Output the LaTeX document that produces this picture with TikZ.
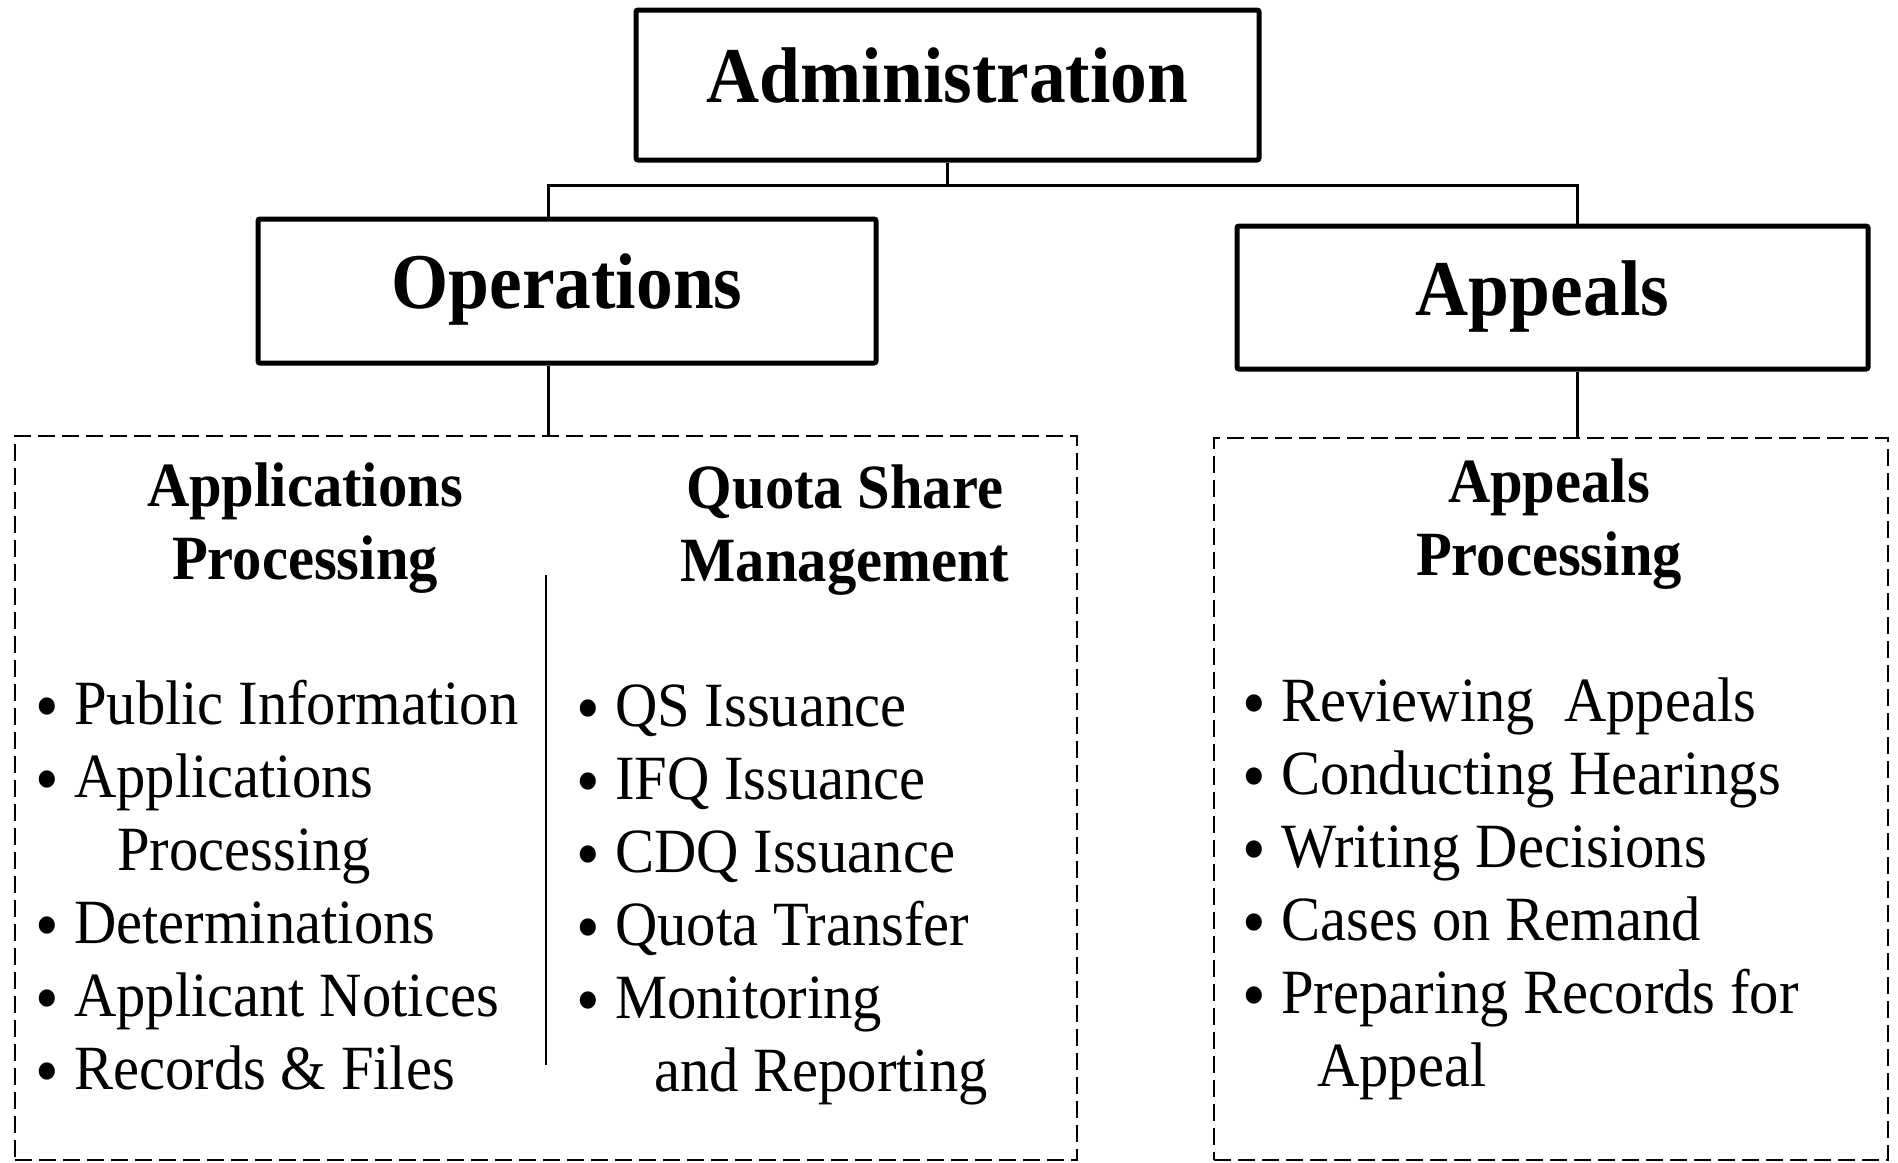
\documentclass[tikz,border=0pt]{standalone}
\usepackage{fontspec}
\setmainfont{Liberation Serif}[FakeStretch=0.93]
\newcommand\bul{\makebox[33pt][l]{\hspace*{-6pt}\raisebox{-6pt}{\scalebox{1.15}{\textbullet}}}}
\tikzset{
  titlebox/.style={draw, line width=5pt, rounded corners=2pt, inner sep=0pt,
    font=\fontsize{79}{90}\selectfont\bfseries, text height=55pt, text depth=20pt},
  conn/.style={line width=3pt},
  dbox/.style={draw, line width=2.5pt, dash pattern=on 17pt off 7pt, inner sep=0pt},
  divider/.style={line width=2.5pt},
  head/.style={anchor=base, inner sep=0pt, font=\fontsize{63}{73}\selectfont\bfseries},
  items/.style={anchor=base west, inner sep=0pt, font=\fontsize{63}{73}\selectfont},
}
\begin{document}
\begin{tikzpicture}[x=1pt,y=-1pt]
\useasboundingbox[fill=white] (0,0) rectangle (1898,1162);

% boxes
\node[titlebox, minimum width=623pt, minimum height=150pt] (admin) at (947.5,85) {Administration};
\node[titlebox, minimum width=618pt, minimum height=144pt] (ops) at (567,291) {Operations};
\node[titlebox, minimum width=631pt, minimum height=143pt] (app) at (1552.5,297.5) {\hspace*{-20pt}Appeals};

\node[dbox, minimum width=1062pt, minimum height=724pt] (opsbox) at (546,798) {};
\node[dbox, minimum width=674pt, minimum height=722pt] (appbox) at (1551,799) {};

% connectors
\coordinate (jl) at (548,185);
\coordinate (jr) at (1577,185);
\draw[conn] (admin.south) -- (admin.south |- jl);
\draw[conn] (jl |- ops.north) -- (jl) -- (jr) -- (jr |- app.north);
\draw[conn] (jl |- ops.south) -- (jl |- opsbox.north);
\draw[conn] (jr |- app.south) -- (jr |- appbox.north);

% divider
\coordinate (dtop) at (546,575);
\coordinate (dbot) at (546,1065);
\draw[divider] (dtop) -- (dbot);

% headings
\node[head] (aphead) at (305,506) {\begin{tabular}[t]{@{}c@{}}Applications\\Processing\end{tabular}};
\node[head] (qshead) at (845,508) {\begin{tabular}[t]{@{}c@{}}Quota Share\\Management\end{tabular}};
\node[head] (aphead2) at (1549,502) {\begin{tabular}[t]{@{}c@{}}Appeals\\Processing\end{tabular}};

% items
\node[items] (apitems) at (41,724) {\begin{tabular}[t]{@{}l@{}}
\bul Public Information\\
\bul Applications\\
\hspace*{76pt}Processing\\
\bul Determinations\\
\bul Applicant Notices\\
\bul Records \& Files
\end{tabular}};

\node[items] (qsitems) at (582,726) {\begin{tabular}[t]{@{}l@{}}
\bul QS Issuance\\
\bul IFQ Issuance\\
\bul CDQ Issuance\\
\bul Quota Transfer\\
\bul Monitoring\\
\hspace*{72pt}and Reporting
\end{tabular}};

\node[items] (appitems) at (1248,721) {\begin{tabular}[t]{@{}l@{}}
\bul Reviewing\ \ Appeals\\
\bul Conducting Hearings\\
\bul Writing Decisions\\
\bul Cases on Remand\\
\bul Preparing Records for\\
\hspace*{69pt}Appeal
\end{tabular}};
\end{tikzpicture}
\end{document}
